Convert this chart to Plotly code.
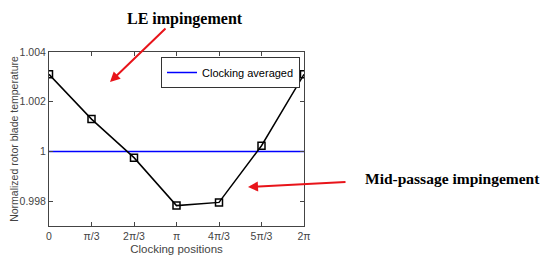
import numpy as np
import plotly.graph_objects as go

# clocking positions (multiples of pi/3)
positions = [0, 1, 2, 3, 4, 5, 6]
temperature = [1.0031, 1.0013, 0.99975, 0.99782, 0.99795, 1.00023, 1.0031]
avg_value = [1.0, 1.0]
tick_labels = ["0", "π/3", "2π/3", "π", "4π/3", "5π/3", "2π"]

x_vals = [p * np.pi / 3 for p in positions]

fig = go.Figure()
fig.add_trace(go.Scatter(x=[0, 2 * np.pi], y=avg_value, mode="lines",
                         line=dict(color="#0000ff", width=1.5),
                         name="Clocking averaged"))
fig.add_trace(go.Scatter(x=x_vals, y=temperature, mode="lines+markers",
                         line=dict(color="black", width=1.5),
                         marker=dict(symbol="square-open", size=7, color="black",
                                     line=dict(width=1.5)),
                         showlegend=False))

axis_font = dict(family="Liberation Sans, Arial", size=10.5, color="#444")
# page body has an 8px margin, so the figure is made 8px smaller
fig.update_layout(
    width=542, height=255,
    margin=dict(l=41, r=246, t=44, b=37),
    plot_bgcolor="white", paper_bgcolor="white",
    showlegend=True,
    legend=dict(x=(300 - 49) / 255, y=(226 - 57) / 174, xanchor="right", yanchor="top",
                bgcolor="white", bordercolor="#333", borderwidth=1,
                font=dict(family="Liberation Sans, Arial", size=11, color="black"),
                itemwidth=30, tracegroupgap=0),
    xaxis=dict(range=[0, 2 * np.pi], tickvals=x_vals, ticktext=tick_labels,
               ticks="inside", ticklen=4, tickcolor="#444", mirror="ticks",
               showline=True, linecolor="#444", linewidth=1, showgrid=False,
               zeroline=False, tickfont=axis_font, automargin=False,
               title=dict(text="Clocking positions", standoff=4,
                          font=dict(family="Liberation Sans, Arial", size=11.5, color="#444"))),
    yaxis=dict(range=[0.997, 1.004], tickvals=[0.998, 1.0, 1.002, 1.004],
               ticktext=["0.998", "1", "1.002", "1.004"],
               ticks="inside", ticklen=4, tickcolor="#444", mirror="ticks",
               showline=True, linecolor="#444", linewidth=1, showgrid=False,
               zeroline=False, tickfont=axis_font, automargin=False,
               title=dict(text="Normalized rotor blade temperature", standoff=4,
                          font=dict(family="Liberation Sans, Arial", size=10.5, color="#444"))),
)

serif = dict(family="Liberation Serif, DejaVu Serif", size=16, color="black")
fig.add_annotation(xref="paper", yref="paper", x=(185 - 49) / 255, y=(226 - 8) / 174,
                   xanchor="center", yanchor="top",
                   text="<b>LE impingement</b>", showarrow=False, font=serif)
fig.add_annotation(xref="paper", yref="paper", x=(363 - 49) / 255, y=(226 - 178) / 174,
                   xanchor="left", yanchor="middle",
                   text="<b>Mid-passage impingement</b>", showarrow=False,
                   font=dict(family="Liberation Serif, DejaVu Serif", size=15.5, color="black"))
# red arrows
fig.add_annotation(xref="paper", yref="paper", x=(110 - 49) / 255, y=(226 - 82) / 174,
                   ax=57, ay=-55, text="", showarrow=True, arrowhead=2, arrowsize=1,
                   arrowwidth=2, arrowcolor="#e8141a")
fig.add_annotation(xref="paper", yref="paper", x=(248 - 49) / 255, y=(226 - 187) / 174,
                   ax=99, ay=-5, text="", showarrow=True, arrowhead=2, arrowsize=1,
                   arrowwidth=2, arrowcolor="#e8141a")

fig.write_html("out.html")
